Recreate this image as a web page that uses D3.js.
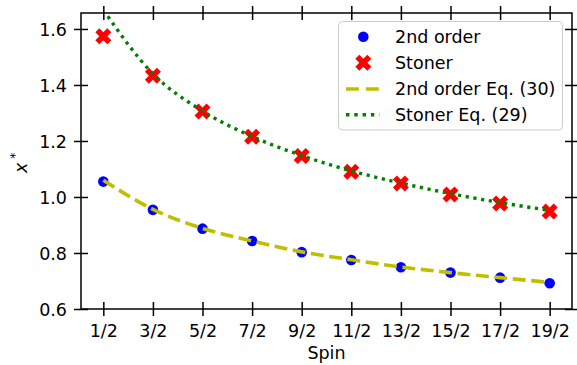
<!DOCTYPE html>
<html>
<head>
<meta charset="utf-8">
<script src="https://cdn.jsdelivr.net/npm/d3@7"></script>
<style>
  html, body { margin: 0; padding: 0; background: #fff; }
  svg { display: block; }
  text { font-family: "DejaVu Sans", sans-serif; }
</style>
</head>
<body>
<svg id="chart" width="577" height="365"></svg>
<script>
// ---- data ----
const spinValues = [0.5, 1.5, 2.5, 3.5, 4.5, 5.5, 6.5, 7.5, 8.5, 9.5];
const spinLabels = ["1/2", "3/2", "5/2", "7/2", "9/2", "11/2", "13/2", "15/2", "17/2", "19/2"];
const secondOrder = [1.055, 0.954, 0.887, 0.843, 0.803, 0.775, 0.749, 0.730, 0.712, 0.692];
const stoner = [1.574, 1.433, 1.305, 1.215, 1.146, 1.090, 1.048, 1.009, 0.977, 0.948];
const secondOrderEq = [1.060, 0.956, 0.888, 0.843, 0.804, 0.776, 0.750, 0.730, 0.712, 0.695];
const stonerEq = [1.668, 1.440, 1.307, 1.216, 1.148, 1.093, 1.050, 1.012, 0.980, 0.952];
const yTicks = [0.6, 0.8, 1.0, 1.2, 1.4, 1.6];
const legendLabels = ["2nd order", "Stoner", "2nd order Eq. (30)", "Stoner Eq. (29)"];

// ---- layout ----
const L = 81, R = 572, T = 13, B = 309;
const svg = d3.select("#chart");
const x = d3.scaleLinear().domain([0.05, 9.95]).range([L, R]);
const y = d3.scaleLinear().domain([0.6, 1.657]).range([B, T]);
const FS = 17.5;

svg.append("defs").append("clipPath").attr("id", "clip")
  .append("rect").attr("x", L).attr("y", T).attr("width", R - L).attr("height", B - T);

const plot = svg.append("g").attr("clip-path", "url(#clip)");

// markers first (legend order), then lines on top
plot.selectAll("circle.so").data(spinValues).enter().append("circle")
  .attr("class", "so")
  .attr("cx", d => x(d))
  .attr("cy", (d, i) => y(secondOrder[i]))
  .attr("r", 5.3)
  .attr("fill", "#0000ff");

const xPath = "M-4,-8L0,-4L4,-8L8,-4L4,0L8,4L4,8L0,4L-4,8L-8,4L-4,0L-8,-4Z";
plot.selectAll("path.st").data(spinValues).enter().append("path")
  .attr("class", "st")
  .attr("d", xPath)
  .attr("transform", (d, i) => `translate(${x(d)},${y(stoner[i])})`)
  .attr("fill", "#ff0000");

const line = d3.line().x((d, i) => x(spinValues[i])).y(d => y(d)).curve(d3.curveMonotoneX);
plot.append("path").datum(secondOrderEq)
  .attr("d", line)
  .attr("fill", "none")
  .attr("stroke", "#bfbf00")
  .attr("stroke-width", 3.6)
  .attr("stroke-dasharray", "12.9,5.6");
plot.append("path").datum(stonerEq)
  .attr("d", line)
  .attr("fill", "none")
  .attr("stroke", "#008000")
  .attr("stroke-width", 3.4)
  .attr("stroke-dasharray", "3.2,4.6");

// ---- axes ----
function inout(g, horiz) {
  g.select(".domain").remove();
  g.selectAll(".tick line")
    .attr("stroke", "#000").attr("stroke-width", 1.5);
  if (horiz) g.selectAll(".tick line").attr("y1", -7).attr("y2", 7);
  else g.selectAll(".tick line").attr("x1", -7).attr("x2", 7);
}

const xAxis = svg.append("g").attr("transform", `translate(0,${B})`)
  .call(d3.axisBottom(x).tickValues(spinValues).tickFormat((d, i) => spinLabels[i]).tickSizeOuter(0));
inout(xAxis, true);
xAxis.selectAll(".tick text")
  .attr("y", 28).attr("dy", 0)
  .attr("font-size", FS).attr("font-family", "DejaVu Sans").attr("fill", "#000");

const xAxisTop = svg.append("g").attr("transform", `translate(0,${T})`)
  .call(d3.axisTop(x).tickValues(spinValues).tickFormat("").tickSizeOuter(0));
inout(xAxisTop, true);

const yAxis = svg.append("g").attr("transform", `translate(${L},0)`)
  .call(d3.axisLeft(y).tickValues(yTicks).tickFormat(d3.format(".1f")).tickSizeOuter(0));
inout(yAxis, false);
yAxis.selectAll(".tick text")
  .attr("x", -14).attr("dy", "0.36em")
  .attr("font-size", FS).attr("font-family", "DejaVu Sans").attr("fill", "#000");

const yAxisRight = svg.append("g").attr("transform", `translate(${R},0)`)
  .call(d3.axisRight(y).tickValues(yTicks).tickFormat("").tickSizeOuter(0));
inout(yAxisRight, false);

// frame
svg.append("rect").attr("x", L).attr("y", T).attr("width", R - L).attr("height", B - T)
  .attr("fill", "none").attr("stroke", "#000").attr("stroke-width", 1.5);

// axis labels
svg.append("text").attr("x", (L + R) / 2).attr("y", 359)
  .attr("text-anchor", "middle").attr("font-size", FS).text("Spin");

const yl = svg.append("text").attr("transform", "translate(26.5,173) rotate(-90)")
  .attr("font-size", FS);
yl.append("tspan").attr("font-style", "italic").text("x");
yl.append("tspan").attr("font-size", 12.25).attr("dx", 4).attr("dy", -8).text("*");

// ---- legend ----
const lg = svg.append("g");
lg.append("rect").attr("x", 338.5).attr("y", 21.5).attr("width", 224).attr("height", 108.5)
  .attr("rx", 4).attr("fill", "#fff").attr("fill-opacity", 0.8)
  .attr("stroke", "#cccccc").attr("stroke-width", 1);
const rowY = [36.7, 62.7, 89, 114.7];
lg.append("circle").attr("cx", 363.3).attr("cy", rowY[0]).attr("r", 5.3).attr("fill", "#0000ff");
lg.append("path").attr("d", xPath).attr("transform", `translate(363.3,${rowY[1]})`).attr("fill", "#ff0000");
lg.append("line").attr("x1", 346).attr("x2", 379.5).attr("y1", rowY[2]).attr("y2", rowY[2])
  .attr("stroke", "#bfbf00").attr("stroke-width", 3.6).attr("stroke-dasharray", "12.9,7");
lg.append("line").attr("x1", 346).attr("x2", 379.5).attr("y1", rowY[3]).attr("y2", rowY[3])
  .attr("stroke", "#008000").attr("stroke-width", 3.4).attr("stroke-dasharray", "3.4,4.9");
lg.selectAll("text.lt").data(legendLabels).enter().append("text")
  .attr("class", "lt")
  .attr("x", 395).attr("y", (d, i) => rowY[i]).attr("dy", "0.36em")
  .attr("font-size", FS).attr("fill", "#000").text(d => d);
</script>
</body>
</html>
